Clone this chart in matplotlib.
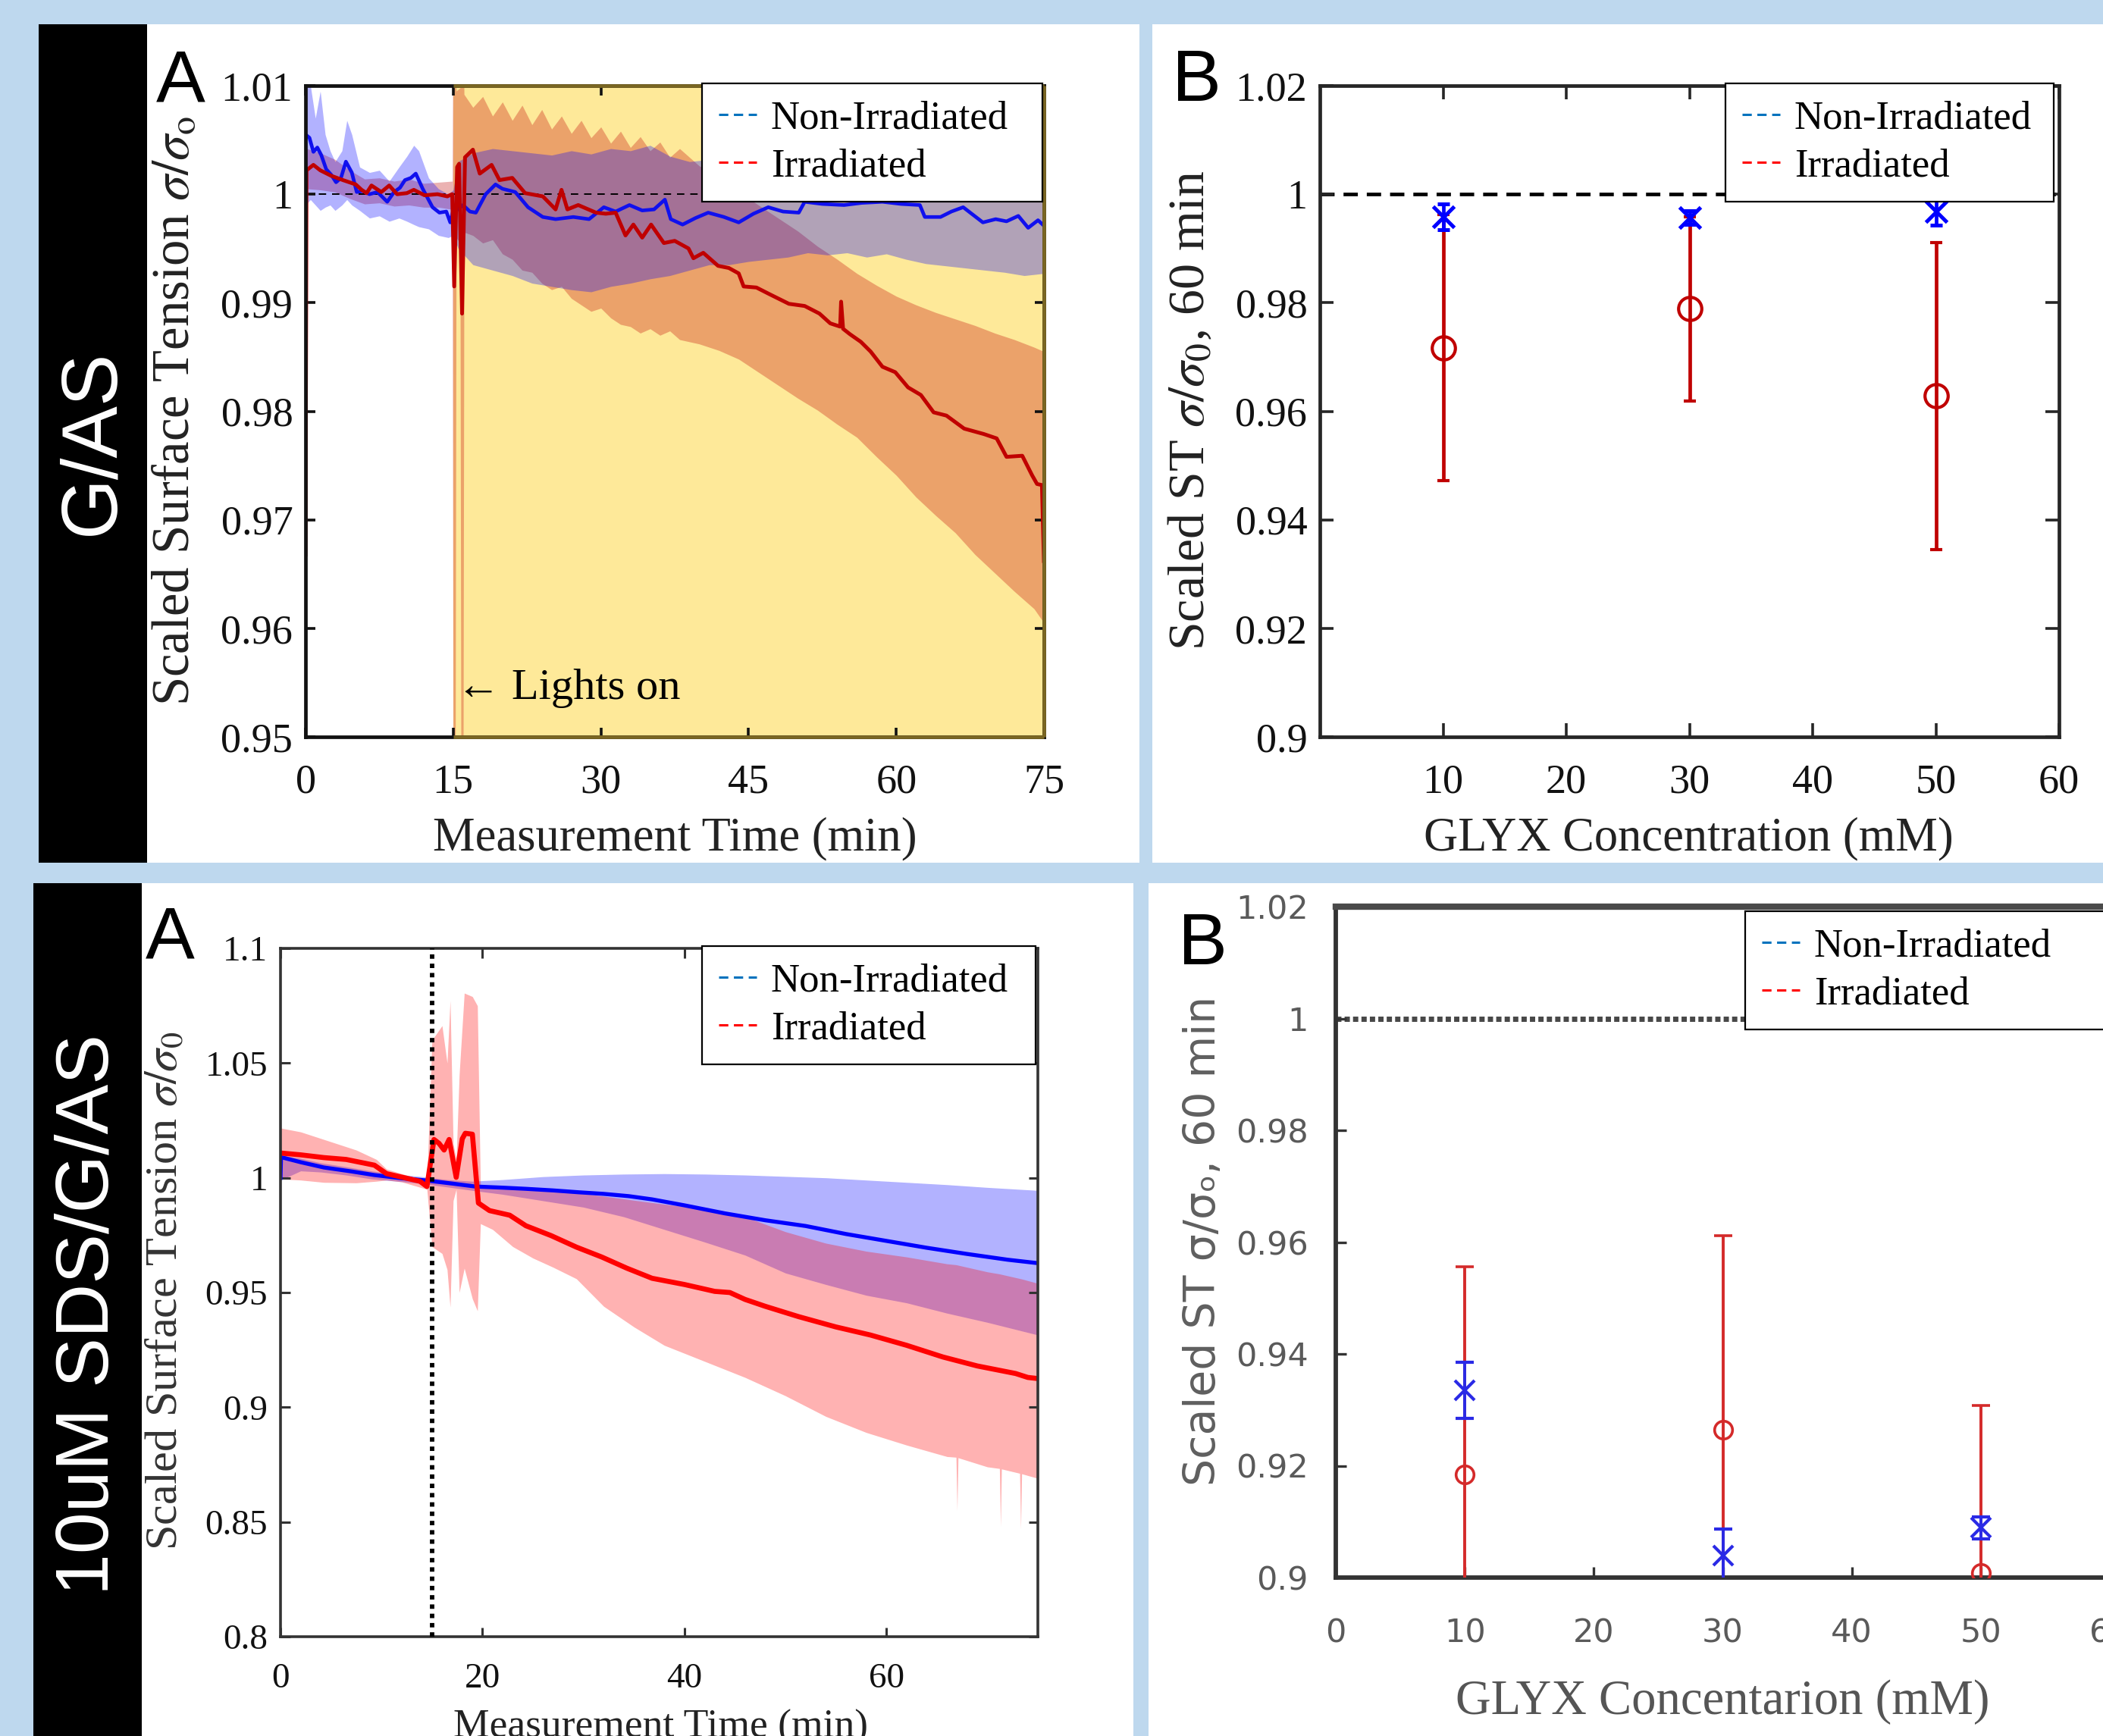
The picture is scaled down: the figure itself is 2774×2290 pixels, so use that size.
import numpy as np
import matplotlib
matplotlib.use('Agg')
import matplotlib.pyplot as plt
from matplotlib.lines import Line2D
from matplotlib.patches import Rectangle

W, H = 2774, 2290

# ---------- G/AS, panel A: scaled surface tension vs measurement time (min)
gas_non_irr = [
    (0.0, 1.0055), (0.4, 1.0052), (0.8, 1.0039), (1.2, 1.0043), (1.6, 1.0036),
    (2.1, 1.0023), (2.6, 1.0018), (3.1, 1.0011), (3.6, 1.0015), (4.1, 1.0030),
    (4.7, 1.0020), (5.2, 1.0002), (5.8, 1.0003), (6.5, 1.0000), (7.3, 1.0002),
    (8.3, 0.9993), (9.0, 1.0002), (9.6, 1.0006), (10.1, 1.0013), (10.7, 1.0015),
    (11.2, 1.0019), (11.9, 1.0005), (12.9, 0.9988), (13.6, 0.9983), (14.3, 0.9984),
    (14.7, 0.9974), (15.0, 0.9985), (15.5, 0.9986), (16.0, 0.9990), (16.7, 0.9984),
    (17.3, 0.9983), (18.3, 1.0000), (19.3, 1.0009), (20.0, 1.0005), (21.3, 1.0002),
    (22.6, 0.9988), (24.1, 0.9979), (25.4, 0.9977), (27.2, 0.9979), (28.8, 0.9977),
    (30.3, 0.9988), (31.5, 0.9984), (32.9, 0.9990), (34.2, 0.9985), (35.4, 0.9986),
    (36.5, 0.9995), (37.1, 0.9977), (38.3, 0.9972), (39.6, 0.9978), (40.9, 0.9983),
    (42.5, 0.9979), (44.0, 0.9974), (45.5, 0.9982), (47.0, 0.9988), (48.5, 0.9984),
    (50.1, 0.9983), (50.7, 0.9993), (52.5, 0.9991), (54.7, 0.9990), (56.5, 0.9992),
    (58.6, 0.9993), (60.5, 0.9991), (62.4, 0.9990), (62.9, 0.9979), (64.5, 0.9979),
    (65.6, 0.9984), (66.8, 0.9988), (68.8, 0.9974), (70.1, 0.9977), (71.2, 0.9975),
    (72.4, 0.9980), (73.4, 0.9969), (74.4, 0.9976), (75.0, 0.9971),
]
gas_irr = [
    (0.0, 0.9668), (0.1, 1.0022), (0.8, 1.0027), (1.5, 1.0022), (2.6, 1.0017),
    (3.8, 1.0013), (5.1, 1.0009), (5.7, 1.0004), (6.2, 1.0001), (6.7, 1.0008),
    (7.7, 1.0002), (8.5, 1.0008), (9.3, 1.0000), (10.3, 1.0001), (11.0, 1.0004),
    (12.1, 0.9999), (13.4, 1.0000), (14.4, 0.9998), (14.9, 1.0000), (15.1, 0.9915),
    (15.4, 1.0025), (15.6, 1.0028), (15.9, 0.9890), (16.2, 1.0034), (17.0, 1.0041),
    (17.7, 1.0019), (18.9, 1.0027), (19.7, 1.0013), (21.0, 1.0015), (22.3, 1.0001),
    (24.1, 0.9998), (25.4, 0.9986), (26.0, 1.0004), (26.6, 0.9986), (27.7, 0.9990),
    (29.5, 0.9983), (30.5, 0.9982), (31.5, 0.9983), (32.5, 0.9962), (33.3, 0.9972),
    (34.2, 0.9960), (35.1, 0.9972), (36.4, 0.9955), (37.5, 0.9957), (38.9, 0.9950),
    (39.4, 0.9941), (40.4, 0.9946), (41.9, 0.9934), (43.0, 0.9932), (44.0, 0.9927),
    (44.5, 0.9915), (45.8, 0.9914), (47.1, 0.9908), (49.1, 0.9899), (50.7, 0.9897),
    (52.2, 0.9890), (53.3, 0.9881), (54.3, 0.9878), (54.4, 0.9901), (54.6, 0.9876),
    (55.3, 0.9871), (56.4, 0.9864), (57.4, 0.9855), (58.6, 0.9841), (59.9, 0.9836),
    (61.2, 0.9822), (62.5, 0.9815), (63.8, 0.9799), (65.1, 0.9796), (66.9, 0.9784),
    (68.9, 0.9779), (70.2, 0.9775), (71.2, 0.9758), (72.8, 0.9759), (73.8, 0.9741),
    (74.3, 0.9733), (74.8, 0.9732), (75.0, 0.9662),
]
# (time, lower, upper) of the shaded spread
gas_non_irr_band = [
    (0.0, 0.9990, 1.0100), (0.5, 0.9995, 1.0100), (1.0, 0.9990, 1.0070),
    (1.5, 0.9985, 1.0095), (2.0, 0.9988, 1.0055), (2.5, 0.9990, 1.0040),
    (3.0, 0.9985, 1.0030), (3.7, 0.9990, 1.0040), (4.2, 0.9995, 1.0068),
    (4.7, 0.9990, 1.0055), (5.5, 0.9985, 1.0025), (6.5, 0.9978, 1.0020),
    (7.5, 0.9980, 1.0022), (8.5, 0.9975, 1.0012), (9.5, 0.9978, 1.0025),
    (10.3, 0.9975, 1.0035), (11.0, 0.9972, 1.0045), (11.5, 0.9970, 1.0040),
    (12.5, 0.9968, 1.0015), (13.5, 0.9962, 1.0005), (14.5, 0.9960, 1.0000),
    (15.0, 0.9962, 1.0004), (15.5, 0.9950, 1.0030), (17.0, 0.9935, 1.0038),
    (19.0, 0.9930, 1.0042), (21.0, 0.9925, 1.0040), (23.0, 0.9918, 1.0038),
    (25.0, 0.9915, 1.0036), (27.0, 0.9912, 1.0040), (29.0, 0.9910, 1.0037),
    (31.0, 0.9915, 1.0042), (33.0, 0.9918, 1.0040), (35.0, 0.9922, 1.0045),
    (37.0, 0.9925, 1.0035), (39.0, 0.9930, 1.0030), (41.0, 0.9935, 1.0032),
    (43.0, 0.9935, 1.0028), (45.0, 0.9938, 1.0030), (47.0, 0.9940, 1.0035),
    (49.0, 0.9942, 1.0030), (51.0, 0.9946, 1.0038), (53.0, 0.9944, 1.0036),
    (55.0, 0.9946, 1.0035), (57.0, 0.9942, 1.0040), (59.0, 0.9945, 1.0038),
    (61.0, 0.9940, 1.0040), (63.0, 0.9936, 1.0025), (65.0, 0.9934, 1.0030),
    (67.0, 0.9932, 1.0040), (69.0, 0.9930, 1.0020), (71.0, 0.9928, 1.0025),
    (73.0, 0.9925, 1.0015), (75.0, 0.9927, 1.0015),
]
gas_irr_band = [
    (0.0, 0.9655, 0.9680), (0.1, 1.0005, 1.0042), (1.5, 1.0004, 1.0038),
    (3.0, 1.0002, 1.0032), (4.5, 0.9996, 1.0022), (6.0, 0.9991, 1.0014),
    (7.5, 0.9992, 1.0015), (9.0, 0.9989, 1.0012), (10.5, 0.9990, 1.0014),
    (12.0, 0.9988, 1.0010), (13.5, 0.9988, 1.0011), (14.9, 0.9986, 1.0012),
    (15.0, 0.9400, 1.0200), (15.2, 0.9400, 1.0200), (15.3, 0.9960, 1.0095),
    (15.7, 0.9955, 1.0098), (15.8, 0.9400, 1.0200), (16.0, 0.9400, 1.0200),
    (16.1, 0.9965, 1.0092), (17.0, 0.9962, 1.0080), (18.0, 0.9955, 1.0090),
    (19.0, 0.9958, 1.0072), (20.0, 0.9945, 1.0085), (21.0, 0.9940, 1.0068),
    (22.0, 0.9930, 1.0082), (23.0, 0.9928, 1.0064), (24.0, 0.9918, 1.0078),
    (25.0, 0.9912, 1.0060), (26.0, 0.9915, 1.0072), (27.0, 0.9904, 1.0056),
    (28.0, 0.9898, 1.0068), (29.0, 0.9892, 1.0052), (30.0, 0.9895, 1.0062),
    (31.0, 0.9886, 1.0047), (32.0, 0.9880, 1.0058), (33.0, 0.9878, 1.0043),
    (34.0, 0.9872, 1.0053), (35.0, 0.9876, 1.0040), (36.0, 0.9870, 1.0048),
    (37.0, 0.9874, 1.0034), (38.0, 0.9866, 1.0042), (40.0, 0.9862, 1.0026),
    (42.0, 0.9856, 1.0018), (44.0, 0.9848, 1.0002), (46.0, 0.9836, 0.9990),
    (48.0, 0.9824, 0.9978), (50.0, 0.9812, 0.9966), (52.0, 0.9801, 0.9952),
    (54.0, 0.9788, 0.9940), (56.0, 0.9776, 0.9927), (58.0, 0.9758, 0.9916),
    (60.0, 0.9741, 0.9906), (62.0, 0.9721, 0.9898), (64.0, 0.9704, 0.9891),
    (66.0, 0.9688, 0.9885), (68.0, 0.9668, 0.9879), (70.0, 0.9651, 0.9872),
    (72.0, 0.9634, 0.9866), (74.0, 0.9618, 0.9859), (75.0, 0.9605, 0.9855),
]
lights_on_min = 15

# ---------- G/AS, panel B: value after 60 min vs GLYX concentration
glyx_mM = [10, 30, 50]
gas_b_non_irr = [0.9958, 0.9957, 0.9968]
gas_b_non_irr_err = [0.0024, 0.0012, 0.0025]
gas_b_irr = [0.9717, 0.9789, 0.9628]
gas_b_irr_err = [0.0245, 0.0170, 0.0283]

# ---------- 10uM SDS/G/AS, panel A
sds_non_irr = [
    (0.0, 1.0000), (0.05, 1.0090), (2.0, 1.0068), (4.3, 1.0045), (7.0, 1.0028),
    (9.3, 1.0012), (12.0, 0.9998), (14.3, 0.9989), (17.0, 0.9975), (19.3, 0.9962),
    (22.0, 0.9957), (24.3, 0.9952), (27.0, 0.9945), (29.5, 0.9937), (32.0, 0.9930),
    (34.5, 0.9920), (36.8, 0.9906), (40.0, 0.9880), (44.0, 0.9845), (48.0, 0.9815),
    (52.0, 0.9790), (56.0, 0.9755), (60.0, 0.9725), (64.0, 0.9695), (68.0, 0.9668),
    (72.0, 0.9643), (75.0, 0.9628),
]
sds_irr = [
    (0.0, 1.0108), (2.0, 1.0100), (4.3, 1.0088), (6.5, 1.0080), (9.3, 1.0055),
    (10.5, 1.0018), (11.8, 1.0005), (13.8, 0.9985), (14.5, 0.9962), (15.2, 1.0167),
    (15.7, 1.0150), (16.2, 1.0121), (16.7, 1.0167), (17.4, 1.0002), (18.0, 1.0170),
    (18.3, 1.0194), (19.0, 1.0190), (19.6, 0.9890), (20.7, 0.9857), (22.7, 0.9837),
    (24.3, 0.9791), (26.8, 0.9748), (29.3, 0.9698), (31.8, 0.9655), (34.3, 0.9606),
    (36.8, 0.9562), (40.0, 0.9535), (43.0, 0.9505), (44.5, 0.9500), (46.0, 0.9470),
    (48.0, 0.9440), (51.3, 0.9395), (55.0, 0.9350), (58.4, 0.9315), (62.0, 0.9270),
    (65.6, 0.9219), (69.0, 0.9180), (72.8, 0.9147), (74.0, 0.9130), (75.0, 0.9125),
]
sds_non_irr_band = [
    (0.0, 0.9990, 1.0100), (2.0, 1.0030, 1.0085), (4.0, 1.0025, 1.0065),
    (6.5, 1.0012, 1.0048), (9.0, 0.9995, 1.0030), (11.5, 0.9985, 1.0015),
    (14.0, 0.9975, 1.0005), (16.5, 0.9960, 0.9992), (19.0, 0.9945, 0.9985),
    (22.0, 0.9928, 0.9992), (26.0, 0.9900, 1.0005), (30.0, 0.9872, 1.0012),
    (34.0, 0.9830, 1.0016), (38.0, 0.9775, 1.0018), (42.0, 0.9720, 1.0016),
    (46.0, 0.9663, 1.0012), (50.0, 0.9585, 1.0006), (54.0, 0.9535, 1.0000),
    (58.0, 0.9488, 0.9990), (62.0, 0.9455, 0.9980), (66.0, 0.9410, 0.9970),
    (70.0, 0.9370, 0.9958), (75.0, 0.9315, 0.9945),
]
sds_irr_band = [
    (0.0, 0.9995, 1.0217), (2.0, 0.9990, 1.0200), (4.3, 0.9980, 1.0167),
    (7.5, 0.9978, 1.0121), (9.5, 0.9985, 1.0080), (10.5, 0.9990, 1.0038),
    (12.0, 0.9982, 1.0018), (14.5, 0.9950, 0.9985), (15.0, 0.9700, 1.0600),
    (16.0, 0.9670, 1.0663), (16.5, 0.9600, 1.0500), (16.8, 0.9436, 1.0773),
    (17.1, 0.9900, 1.0150), (17.4, 0.9950, 1.0080), (17.7, 0.9500, 1.0450),
    (18.2, 0.9606, 1.0805), (19.0, 0.9473, 1.0790), (19.5, 0.9420, 1.0750),
    (19.8, 0.9800, 0.9965), (21.0, 0.9775, 0.9965), (23.0, 0.9700, 0.9962),
    (25.0, 0.9650, 0.9955), (27.0, 0.9610, 0.9945), (29.3, 0.9560, 0.9935),
    (32.0, 0.9440, 0.9920), (35.0, 0.9350, 0.9902), (38.0, 0.9270, 0.9885),
    (42.0, 0.9200, 0.9865), (46.0, 0.9130, 0.9830), (50.0, 0.9050, 0.9765),
    (54.0, 0.8960, 0.9715), (58.0, 0.8890, 0.9680), (62.0, 0.8835, 0.9655),
    (66.0, 0.8785, 0.9625), (66.9, 0.8782, 0.9621), (67.0, 0.8550, 0.9620),
    (67.1, 0.8780, 0.9619), (70.0, 0.8740, 0.9590), (71.2, 0.8733, 0.9581),
    (71.3, 0.8480, 0.9580), (71.4, 0.8731, 0.9579), (73.2, 0.8712, 0.9561),
    (73.3, 0.8470, 0.9560), (73.4, 0.8710, 0.9559), (75.0, 0.8690, 0.9540),
]

# ---------- 10uM SDS/G/AS, panel B
sds_b_non_irr = [0.9335, 0.9039, 0.9089]
sds_b_non_irr_err = [0.0050, 0.0048, 0.0020]
sds_b_irr = [0.9184, 0.9264, 0.9008]
sds_b_irr_err = [0.0372, 0.0347, 0.0300]

legend_labels = ['Non-Irradiated', 'Irradiated']

plt.rcParams['mathtext.fontset'] = 'stix'
serif = ['Liberation Serif', 'DejaVu Serif']
sans = ['Liberation Sans', 'DejaVu Sans']
plt.rcParams['font.family'] = serif

fig = plt.figure(figsize=(W / 100, H / 100), dpi=100, facecolor='#bed8ee')


def frac_rect(x0, y0, x1, y1):
    # pixel box (top-left origin) -> figure fraction [l, b, w, h]
    return [x0 / W, 1 - y1 / H, (x1 - x0) / W, (y1 - y0) / H]


def put(x, y, s, **kw):
    fig.text(x / W, 1 - y / H, s, **kw)


def cols(pairs):
    return [np.array(c) for c in zip(*pairs)]


for x0, y0, x1, y1, c in [(51, 32, 1503, 1138, 'white'), (1520, 32, W, 1138, 'white'),
                          (44, 1165, 1495, H, 'white'), (1515, 1165, W, H, 'white'),
                          (51, 32, 194, 1138, 'black'), (44, 1165, 187, H, 'black')]:
    l, b, w, h = frac_rect(x0, y0, x1, y1)
    fig.add_artist(Rectangle((l, b), w, h, transform=fig.transFigure,
                             facecolor=c, lw=0, zorder=-10))


def style(ax, color, lw, tlen, tw, size, padx, pady, top=True, right=True):
    for s in ax.spines.values():
        s.set_color(color)
        s.set_linewidth(lw)
    ax.tick_params(direction='in', top=top, right=right, length=tlen, width=tw,
                   color=color, labelsize=size, labelcolor='#111111')
    ax.tick_params(axis='x', pad=padx)
    ax.tick_params(axis='y', pad=pady)


def add_legend(ax, x0, y0, x1, y1):
    hs = [Line2D([], [], color='#0072bd', lw=2.2, dashes=(4, 2.4)),
          Line2D([], [], color='#ff0000', lw=2.2, dashes=(4, 2.4))]
    l, b, w, h = frac_rect(x0, y0, x1, y1)
    leg = ax.legend(hs, legend_labels, loc='upper left', bbox_to_anchor=(l, b, w, h),
                    bbox_transform=fig.transFigure, mode='expand', borderaxespad=0,
                    fancybox=False, framealpha=1, edgecolor='black',
                    prop={'family': serif, 'size': 38}, handlelength=0.95,
                    handletextpad=0.35, labelspacing=0.29, borderpad=0.42)
    leg.get_frame().set_linewidth(1.6)
    leg.set_zorder(10)


def fmt(vals):
    return [f'{v:g}' for v in vals]


# ======== G/AS panel A
ax = fig.add_axes(frac_rect(403, 113, 1377, 972))
ax.axvspan(lights_on_min, 75, color='#fee999', lw=0, zorder=0.5)
t, lo, hi = cols(gas_irr_band)
ax.fill_between(t, lo, hi, color='#c00000', alpha=0.3, lw=0, zorder=1)
t, lo, hi = cols(gas_non_irr_band)
ax.fill_between(t, lo, hi, color='#0000ff', alpha=0.3, lw=0, zorder=1.1)
ax.axhline(1, color='black', lw=1.4, dashes=(5, 4), zorder=1.5)
t, v = cols(gas_non_irr)
ax.plot(t, v, color='#1010ee', lw=3.4, zorder=2)
t, v = cols(gas_irr)
ax.plot(t, v, color='#c00000', lw=3.6, zorder=2.1)
ax.set_xlim(0, 75)
ax.set_ylim(0.95, 1.01)
xt = [0, 15, 30, 45, 60, 75]
yt = np.round(np.arange(0.95, 1.0101, 0.01), 3)
ax.set_xticks(xt, fmt(xt))
ax.set_yticks(yt, fmt(yt))
style(ax, '#111111', 3.4, 9, 2.6, 39, 25, 12)
olive = '#7a6622'
for xs, ys in [([15, 75], [1.01, 1.01]), ([15, 75], [0.95, 0.95]), ([75, 75], [0.95, 1.01])]:
    ax.plot(xs, ys, color=olive, lw=3.4, clip_on=False, zorder=3, solid_capstyle='butt')
for tk in ax.xaxis.get_major_ticks():
    if tk.get_loc() > 15:
        tk.tick1line.set_color(olive)
        tk.tick2line.set_color(olive)
for tk in ax.yaxis.get_major_ticks():
    tk.tick2line.set_color(olive)
ax.text(15.3, 0.9545, '\u2190 Lights on', fontsize=42, family=serif, va='center', ha='left',
        zorder=4)
add_legend(ax, 926, 110, 1375, 262)
put(232, 542, r'Scaled Surface Tension $\sigma/\sigma_{\mathrm{o}}$', fontsize=49.5,
    rotation=90, ha='center', va='center', color='#222222')
put(890, 1106, 'Measurement Time (min)', fontsize=45, ha='center', va='center',
    color='#222222')

# ======== G/AS panel B
ax = fig.add_axes(frac_rect(1741, 113, 2716, 972))
ax.axhline(1, color='black', lw=3.4, dashes=(4, 2.5), zorder=1)
ax.errorbar(glyx_mM, gas_b_irr, yerr=gas_b_irr_err, fmt='o', color='#c00000', mfc='none',
            ms=22, mew=3, elinewidth=3.4, capsize=6, capthick=3.4, zorder=3)
ax.errorbar(glyx_mM, gas_b_non_irr, yerr=gas_b_non_irr_err, fmt='x', color='#0000ff',
            ms=20, mew=3.6, elinewidth=3.4, capsize=6, capthick=3.4, zorder=4)
ax.set_xlim(0, 60)
ax.set_ylim(0.9, 1.02)
xt = [10, 20, 30, 40, 50, 60]
yt = np.round(np.arange(0.9, 1.0201, 0.02), 3)
ax.set_xticks(xt, fmt(xt))
ax.set_yticks(yt, fmt(yt))
style(ax, '#262626', 3.4, 13, 2.6, 39, 25, 12)
add_legend(ax, 2276, 110, 2709, 262)
put(1571, 541, r'Scaled ST $\sigma/\sigma_0$, 60 min', fontsize=49, rotation=90,
    ha='center', va='center', color='#222222')
put(2227, 1106, 'GLYX Concentration (mM)', fontsize=45, ha='center', va='center',
    color='#222222')

# ======== SDS panel A
ax = fig.add_axes(frac_rect(370, 1251, 1369, 2159))
t, lo, hi = cols(sds_non_irr_band)
ax.fill_between(t, lo, hi, color='#0000ff', alpha=0.3, lw=0, zorder=1)
t, lo, hi = cols(sds_irr_band)
ax.fill_between(t, lo, hi, color='#ff0000', alpha=0.3, lw=0, zorder=1.1)
t, v = cols(sds_non_irr)
ax.plot(t, v, color='#0000ff', lw=3.8, zorder=2)
t, v = cols(sds_irr)
ax.plot(t, v, color='#ff0000', lw=4.8, zorder=2.1)
ax.axvline(lights_on_min, color='black', lw=4.2, dashes=(1, 1.1), zorder=3)
ax.set_xlim(0, 75)
ax.set_ylim(0.8, 1.1)
xt = [0, 20, 40, 60]
yt = np.round(np.arange(0.8, 1.1001, 0.05), 3)
ax.set_xticks(xt, fmt(xt))
ax.set_yticks(yt, fmt(yt))
style(ax, '#333333', 2.6, 9, 2.2, 34, 25, 12)
add_legend(ax, 926, 1248, 1366, 1402)
put(219, 1703, r'Scaled Surface Tension $\sigma/\sigma_0$', fontsize=43.5, rotation=90,
    ha='center', va='center', color='#333333')
put(871, 2279, 'Measurement Time (min)', fontsize=38.5, ha='center', va='center',
    color='#222222')

# ======== SDS panel B
ax = fig.add_axes(frac_rect(1762, 1196, 2783, 2081))
ax.axhline(1, color='#484848', lw=5, dashes=(1, 0.6), zorder=1)
ax.errorbar(glyx_mM, sds_b_irr, yerr=sds_b_irr_err, fmt='o', color='#d42a2a', mfc='none',
            ms=17, mew=2.6, elinewidth=2.8, capsize=8.5, capthick=2.8, zorder=3)
ax.errorbar(glyx_mM, sds_b_non_irr, yerr=sds_b_non_irr_err, fmt='x', color='#2a2ae6',
            ms=19, mew=3, elinewidth=2.8, capsize=8.5, capthick=2.8, zorder=4)
ax.set_xlim(0, 60)
ax.set_ylim(0.9, 1.02)
xt = [0, 10, 20, 30, 40, 50, 60]
yt = np.round(np.arange(0.9, 1.0201, 0.02), 3)
ax.set_xticks(xt, fmt(xt), family=['DejaVu Sans'], color='#5a5a5a')
ax.set_yticks(yt, fmt(yt), family=['DejaVu Sans'], color='#5a5a5a')
style(ax, '#333333', 4.2, 10, 2.4, 31, 38, 26, top=False, right=False)
ax.tick_params(labelcolor='#5a5a5a')
ax.spines['top'].set_color('#4a4a4a')
ax.spines['top'].set_linewidth(6)
add_legend(ax, 2302, 1202, 2850, 1354)
put(1587, 1637, 'Scaled ST \u03c3/\u03c3\u2092, 60 min', fontsize=41, rotation=90,
    ha='center', va='center', color='#5f5f5f', family=['DejaVu Sans', 'Noto Sans'])
put(2272, 2245, 'GLYX Concentarion (mM)', fontsize=46.5, ha='center', va='center',
    color='#555555')

# panel letters and row labels
for x, y, s in [(238, 108, 'A'), (1578, 108, 'B'), (224, 1238, 'A'), (1586, 1247, 'B')]:
    put(x, y, s, fontsize=70, family=sans, ha='center', va='center', color='black')
put(123, 583, 'G/AS', fontsize=74, family=sans, rotation=90, ha='center', va='center',
    color='white')
put(117, 1734, '10uM SDS/G/AS', fontsize=71, family=sans, rotation=90, ha='center',
    va='center', color='white')

fig.savefig('out.png', dpi=100, facecolor=fig.get_facecolor())
